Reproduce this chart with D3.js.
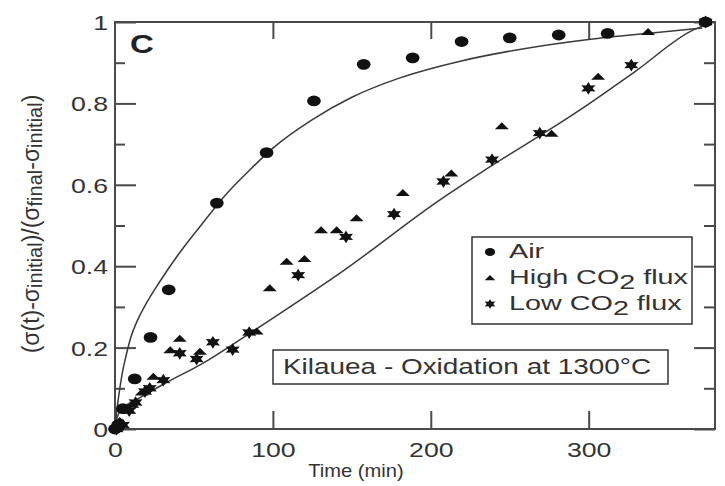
<!DOCTYPE html>
<html>
<head>
<meta charset="utf-8">
<script src="https://cdn.jsdelivr.net/npm/d3@7"></script>
<style>
  html, body { margin: 0; padding: 0; background: #fff; }
  svg { display: block; }
  text { font-family: "Liberation Sans", Arial, Helvetica, sans-serif; fill: #333; }
</style>
</head>
<body>
<svg id="chart" width="725" height="486"></svg>
<script>
// ---- data ----------------------------------------------------------
const xTickValues = [0, 100, 200, 300];
const xTickLabels = ["0", "100", "200", "300"];
const yTickValues = [0, 0.2, 0.4, 0.6, 0.8, 1];
const yTickLabels = ["0", "0.2", "0.4", "0.6", "0.8", "1"];
const yMinorTicks = [0.1, 0.3, 0.5, 0.7, 0.9];

// Air
const airTime  = [0, 2, 5, 12.5, 22.5, 34, 64.5, 96, 126, 157.5, 188.5, 219.5, 250, 281, 312, 374];
const airValue = [0, 0.01, 0.05, 0.123, 0.225, 0.342, 0.555, 0.679, 0.806, 0.896, 0.912, 0.952, 0.961, 0.968, 0.972, 1.0];

// High CO2 flux
const highTime  = [0, 3, 8, 11, 17, 24.3, 35, 41, 53.8, 89.7, 98, 108.7, 120, 130.5, 140.4, 153, 182.3, 213, 245, 276.5, 306, 337.6, 374];
const highValue = [0.005, 0.02, 0.05, 0.06, 0.09, 0.129, 0.194, 0.222, 0.19, 0.24, 0.346, 0.411, 0.418, 0.489, 0.489, 0.518, 0.58, 0.628, 0.744, 0.726, 0.866, 0.976, 1.0];

// Low CO2 flux
const lowTime  = [1, 5, 9, 13, 19, 22, 30.6, 41, 51.7, 62, 74.5, 85, 116, 146.3, 176.7, 208, 238.8, 269, 299.8, 327, 374];
const lowValue = [0, 0.01, 0.045, 0.065, 0.092, 0.1, 0.12, 0.186, 0.172, 0.213, 0.195, 0.237, 0.378, 0.472, 0.528, 0.608, 0.662, 0.727, 0.837, 0.894, 1.0];

// fitted curves
const airFitTime  = [0, 1, 2.5, 4.5, 7, 10, 14, 20, 28, 40, 55, 70, 85, 100, 125, 150, 180, 220, 260, 300, 340, 372];
const airFitValue = [0, 0.04, 0.085, 0.135, 0.18, 0.225, 0.265, 0.31, 0.36, 0.428, 0.503, 0.575, 0.635, 0.69, 0.76, 0.815, 0.862, 0.905, 0.935, 0.957, 0.973, 0.985];
const linFitTime  = [0, 1.5, 5, 15, 33, 55, 79, 110.8, 142.5, 205.8, 231, 294.5, 330, 366, 372];
const linFitValue = [0, 0.03, 0.05, 0.075, 0.115, 0.16, 0.219, 0.30, 0.383, 0.563, 0.628, 0.784, 0.88, 0.98, 0.99];

const legendLabels = ["Air", "High CO", "Low CO"];
const chartTitle = "Kilauea - Oxidation at 1300°C";
const panelLetter = "C";
const xAxisTitle = "Time (min)";

// ---- layout ----------------------------------------------------------
const SX = 1.27;           // horizontal glyph stretch
const plotLeft = 115, plotRight = 715, plotTop = 22, plotBottom = 429;
const ink = "#333";
const frame = "#4a4a4a";

const svg = d3.select("#chart");
const x = d3.scaleLinear().domain([0, 380]).range([plotLeft, plotRight]);
const y = d3.scaleLinear().domain([0, 1]).range([plotBottom, plotTop]);

function stretchLabels(sel, dx, dy, anchor) {
  sel.selectAll("text")
    .attr("x", null).attr("y", null).attr("dy", null)
    .attr("text-anchor", anchor)
    .attr("transform", `translate(${dx},${dy}) scale(${SX},1)`)
    .style("font-size", "21px")
    .style("fill", ink);
}

function styleAxis(g) {
  g.attr("font-family", null).attr("font-size", null);
  g.select(".domain").remove();
  g.selectAll(".tick line").attr("stroke", frame).attr("stroke-width", 2);
}

// bottom axis
const gB = svg.append("g").attr("transform", `translate(0,${plotBottom})`)
  .call(d3.axisBottom(x).tickValues(xTickValues).tickSize(-18)
        .tickFormat((d, i) => xTickLabels[i]));
styleAxis(gB); stretchLabels(gB, 0, 28, "middle");

// top axis (ticks only)
const gT = svg.append("g").attr("transform", `translate(0,${plotTop})`)
  .call(d3.axisTop(x).tickValues(xTickValues.slice(1)).tickSize(-17).tickFormat(""));
styleAxis(gT);

// left axis
const gL = svg.append("g").attr("transform", `translate(${plotLeft},0)`)
  .call(d3.axisLeft(y).tickValues(yTickValues).tickSize(-21)
        .tickFormat((d, i) => yTickLabels[i]));
styleAxis(gL); stretchLabels(gL, -7, 7.5, "end");
const gLm = svg.append("g").attr("transform", `translate(${plotLeft},0)`)
  .call(d3.axisLeft(y).tickValues(yMinorTicks).tickSize(-10).tickFormat(""));
styleAxis(gLm);

// right axis
const gR = svg.append("g").attr("transform", `translate(${plotRight},0)`)
  .call(d3.axisRight(y).tickValues(yTickValues).tickSize(-21).tickFormat(""));
styleAxis(gR);
const gRm = svg.append("g").attr("transform", `translate(${plotRight},0)`)
  .call(d3.axisRight(y).tickValues(yMinorTicks).tickSize(-11).tickFormat(""));
styleAxis(gRm);

// frame
svg.append("rect")
  .attr("x", plotLeft).attr("y", plotTop)
  .attr("width", plotRight - plotLeft).attr("height", plotBottom - plotTop)
  .attr("fill", "none").attr("stroke", frame).attr("stroke-width", 2);

// fitted curves
const line = d3.line().x(d => x(d[0])).y(d => y(d[1])).curve(d3.curveMonotoneX);
[[airFitTime, airFitValue], [linFitTime, linFitValue]].forEach(([t, v]) => {
  svg.append("path")
    .datum(t.map((ti, i) => [ti, v[i]]))
    .attr("d", line)
    .attr("fill", "none")
    .attr("stroke", "#3a3a3a")
    .attr("stroke-width", 1.5);
});

// marker shapes
function starPath(R, r, n) {
  const pts = d3.range(2 * n).map(i => {
    const a = i * Math.PI / n - Math.PI / 2;
    const rad = i % 2 ? r : R;
    return [(rad * Math.cos(a)).toFixed(2), (rad * Math.sin(a)).toFixed(2)];
  });
  return "M" + pts.join("L") + "Z";
}
function circlePath(r) {
  return `M${-r},0A${r},${r} 0 1,0 ${r},0A${r},${r} 0 1,0 ${-r},0Z`;
}
function trianglePath(w, h) {
  return `M${-w / 2},${h * 0.45}L${w / 2},${h * 0.45}L0,${-h * 0.55}Z`;
}
const shapes = {
  air: s => circlePath(5.4 * s),
  high: s => trianglePath(11 * s, 7 * s),
  low: s => starPath(6.4 * s, 3.4 * s, 6)
};

function drawSeries(t, v, shape) {
  svg.append("g").selectAll("path")
    .data(t.map((ti, i) => [ti, v[i]]))
    .join("path")
    .attr("d", shapes[shape](1))
    .attr("transform", d => `translate(${x(d[0])},${y(d[1])}) scale(${SX},1)`)
    .attr("fill", "#111");
}
drawSeries(lowTime, lowValue, "low");
drawSeries(highTime, highValue, "high");
drawSeries(airTime, airValue, "air");

// panel letter
svg.append("text")
  .attr("transform", `translate(130,53) scale(${SX},1)`)
  .style("font-size", "26px").style("font-weight", "bold").style("fill", "#222")
  .text(panelLetter);

// axis titles
svg.append("text")
  .attr("transform", `translate(356,477) scale(1.12,1)`)
  .attr("text-anchor", "middle")
  .style("font-size", "18px")
  .text(xAxisTitle);

const yTitle = svg.append("text")
  .attr("transform", `translate(39,224) rotate(-90)`)
  .attr("text-anchor", "middle")
  .style("font-size", "23px");
[["(σ(t)-σ", false], ["initial", true], [")/(σ", false], ["final", true],
 ["-σ", false], ["initial", true], [")", false]].forEach(([s, sub]) => {
  yTitle.append("tspan")
    .attr("dy", sub ? 3 : -3)
    .style("font-size", sub ? "20px" : "23px")
    .text(s);
});
yTitle.select("tspan").attr("dy", 0);

// legend
const lg = svg.append("g");
lg.append("rect")
  .attr("x", 472).attr("y", 237).attr("width", 220).attr("height", 87)
  .attr("fill", "#fff").attr("stroke", "#333").attr("stroke-width", 1.5);
const legendItems = [["air", 258, null], ["high", 284, "2"], ["low", 310, "2"]];
legendItems.forEach(([shape, base, sub], i) => {
  lg.append("path")
    .attr("d", shapes[shape](0.75))
    .attr("transform", `translate(490,${base - 6}) scale(${SX},1)`)
    .attr("fill", "#111");
  const t = lg.append("text")
    .attr("transform", `translate(509,${base}) scale(1.37,1)`)
    .style("font-size", "21px");
  t.append("tspan").text(legendLabels[i]);
  if (sub) {
    t.append("tspan").attr("dy", 5).text(sub);
    t.append("tspan").attr("dy", -5).text(" flux");
  }
});

// annotation box
svg.append("rect")
  .attr("x", 273).attr("y", 350).attr("width", 395).attr("height", 34)
  .attr("fill", "#fff").attr("stroke", "#333").attr("stroke-width", 1.5);
svg.append("text")
  .attr("transform", `translate(283,374) scale(1.27,1)`)
  .style("font-size", "22px")
  .text(chartTitle);
</script>
</body>
</html>
